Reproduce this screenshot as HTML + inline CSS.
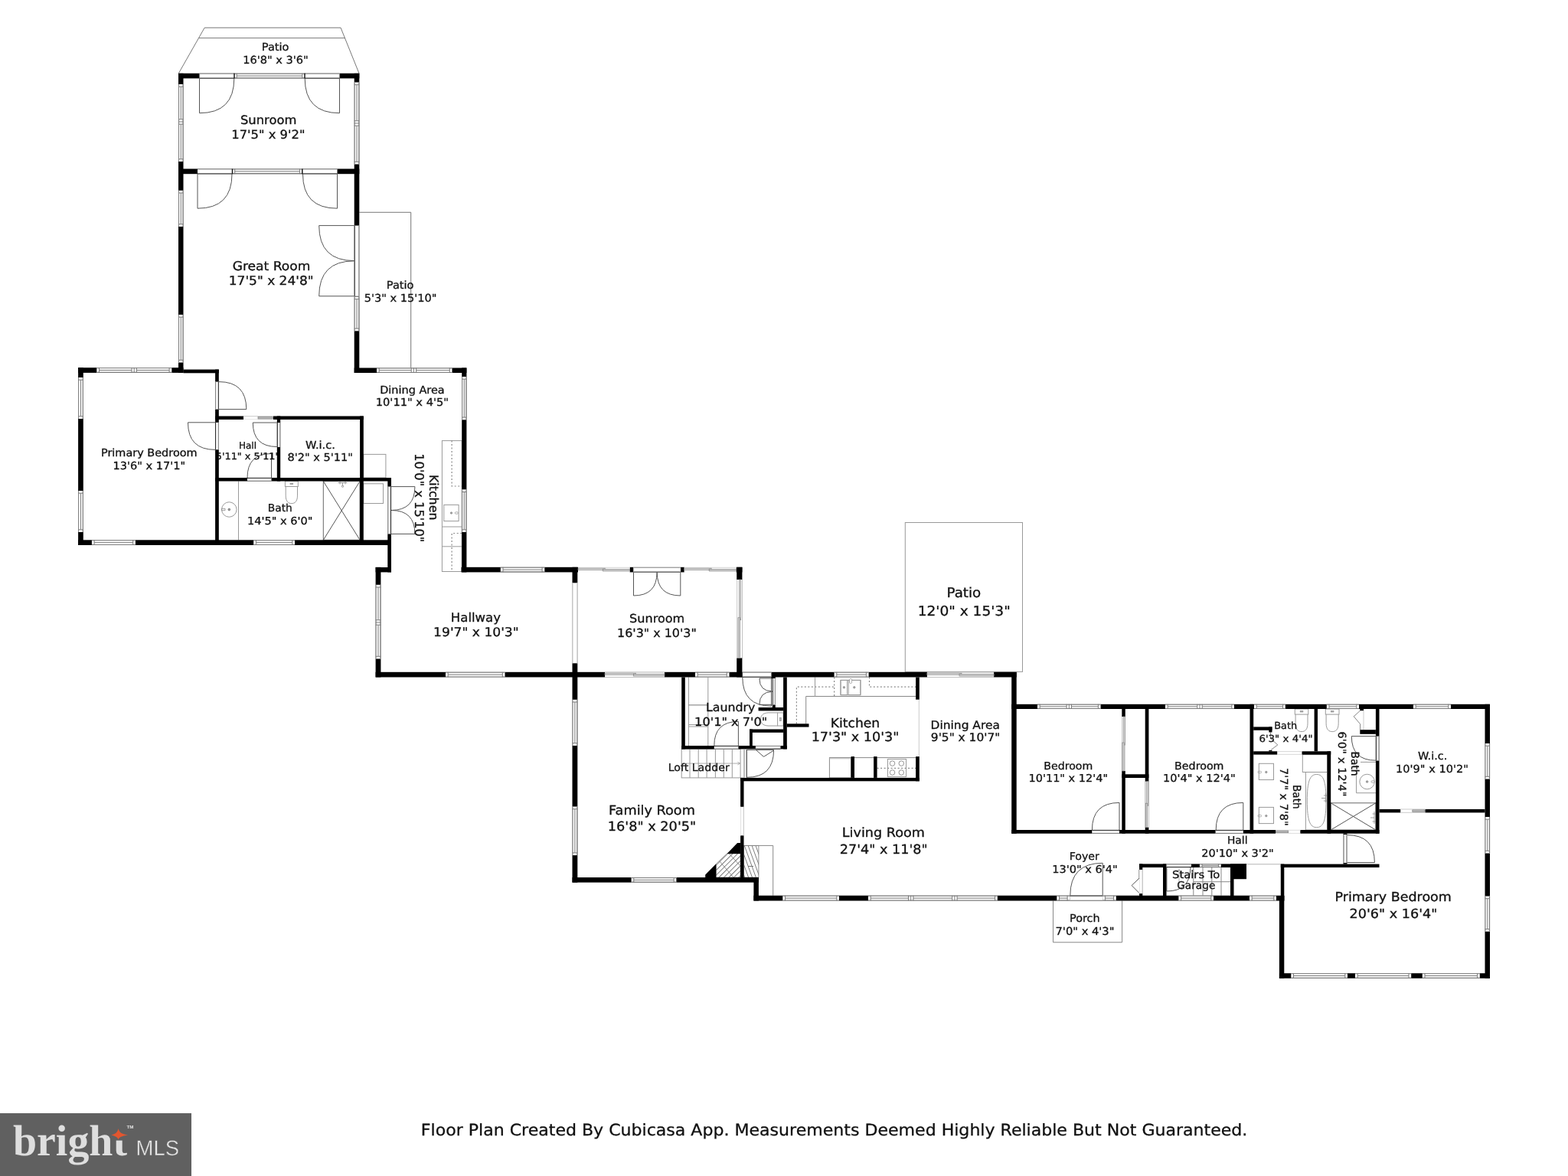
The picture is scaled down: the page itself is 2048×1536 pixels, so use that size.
<!DOCTYPE html>
<html lang="en">
<head>
<meta charset="utf-8">
<title>Floor Plan</title>
<style>
html,body{margin:0;padding:0;background:#fff;}
body{width:2048px;height:1536px;overflow:hidden;font-family:"DejaVu Sans","Liberation Sans",sans-serif;}
svg{display:block;position:absolute;left:0;top:0;}
svg text{text-rendering:geometricPrecision;}
svg{will-change:transform;transform:translateZ(0);}
</style>
</head>
<body>
<svg width="2048" height="1536" viewBox="0 0 2048 1536">
<rect width="2048" height="1536" fill="#fff"/>
<g fill="none">
<path d="M233.3 95.8L267.2 36.2L445 36.2L469 95.8" fill="none" stroke="#777" stroke-width="1"/>
<line x1="259.7" y1="49.7" x2="451" y2="49.7" stroke="#777" stroke-width="1"/>
<path d="M469.3 277.3L536.7 277.3L536.7 481" fill="none" stroke="#777" stroke-width="1"/>
<path d="M260.5 102.4L260.5 147.7Q305.8 147.7 305.8 102.4" fill="none" stroke="#555" stroke-width="1"/>
<path d="M443.5 102.4L443.5 147.7Q398.2 147.7 398.2 102.4" fill="none" stroke="#555" stroke-width="1"/>
<path d="M258 227.2L258 272.2Q303 272.2 303 227.2" fill="none" stroke="#555" stroke-width="1"/>
<path d="M440.5 227.2L440.5 272.2Q395.5 272.2 395.5 227.2" fill="none" stroke="#555" stroke-width="1"/>
<path d="M462.7 294.6L416.7 294.6Q416.7 340.6 462.7 340.6" fill="none" stroke="#555" stroke-width="1"/>
<path d="M462.7 386.8L416.7 386.8Q416.7 340.8 462.7 340.8" fill="none" stroke="#555" stroke-width="1"/>
<path d="M285.8 534.6L321.8 534.6Q321.8 498.6 285.8 498.6" fill="none" stroke="#555" stroke-width="1"/>
<path d="M281.1 551.8L245.5 551.8Q245.5 587.4 281.1 587.4" fill="none" stroke="#555" stroke-width="1"/>
<path d="M361.8 552L330.3 552Q330.3 583.5 361.8 583.5" fill="none" stroke="#555" stroke-width="1"/>
<path d="M354.5 624L354.5 592.5Q323 592.5 323 624" fill="none" stroke="#555" stroke-width="1"/>
<path d="M511 635.6L541.9 635.6Q541.9 666.5 511 666.5" fill="none" stroke="#555" stroke-width="1"/>
<path d="M511 697.4L541.9 697.4Q541.9 666.5 511 666.5" fill="none" stroke="#555" stroke-width="1"/>
<line x1="311.5" y1="628.5" x2="311.5" y2="705.3" stroke="#9a9a9a" stroke-width="1"/>
<circle cx="299.3" cy="665.5" r="9.75" fill="none" stroke="#9a9a9a" stroke-width="1"/>
<circle cx="299.3" cy="665.5" r="1.3" fill="#999" stroke="#777" stroke-width="1"/>
<path d="M289.5 664.3h4.5v2.4h-4.5z" fill="none" stroke="#888" stroke-width="0.8"/>
<rect x="372.4" y="628.5" width="16.9" height="7" fill="none" stroke="#9a9a9a" stroke-width="1"/>
<path d="M373.2 635.5L373.2 647.12C373.2 655.07 376.62 657.6 380.85 657.6C385.07 657.6 388.5 655.07 388.5 647.12L388.5 635.5" fill="none" stroke="#9a9a9a" stroke-width="1"/>
<rect x="379.05" y="631.1" width="3.6" height="1.4" fill="#aaa" stroke="#999" stroke-width="0.8"/>
<rect x="422.3" y="628.5" width="47.8" height="76.8" fill="none" stroke="#666" stroke-width="1"/>
<line x1="422.3" y1="628.5" x2="470.1" y2="705.3" stroke="#555" stroke-width="1"/>
<line x1="422.3" y1="705.3" x2="470.1" y2="628.5" stroke="#555" stroke-width="1"/>
<path d="M441.5 630.5h12M444 628.5v4M451 628.5v4M447.5 630.5v4" fill="none" stroke="#888" stroke-width="0.8"/>
<circle cx="447.5" cy="635.2" r="1.2" fill="none" stroke="#888" stroke-width="0.8"/>
<rect x="474.8" y="593.4" width="29.1" height="30.6" fill="none" stroke="#9a9a9a" stroke-width="1"/>
<rect x="474.8" y="631.8" width="25.7" height="25.7" fill="none" stroke="#9a9a9a" stroke-width="1"/>
<rect x="577.4" y="575.6" width="25.8" height="170.9" fill="none" stroke="#9a9a9a" stroke-width="1"/>
<path d="M590.1 575.6V635H603.2" fill="none" stroke="#8a8a8a" stroke-width="1.2" stroke-dasharray="2 2.5"/>
<path d="M603.2 696.5H590.1V746.5" fill="none" stroke="#8a8a8a" stroke-width="1.2" stroke-dasharray="2 2.5"/>
<rect x="579.8" y="659.4" width="19.3" height="21.2" fill="none" stroke="#9a9a9a" stroke-width="1"/>
<circle cx="589.5" cy="670" r="1.2" fill="#aaa" stroke="#888" stroke-width="0.8"/>
<rect x="594.3" y="668.8" width="4" height="2.4" fill="none" stroke="#999" stroke-width="0.8" rx="1"/>
<line x1="577.4" y1="688" x2="603.2" y2="688" stroke="#9a9a9a" stroke-width="1"/>
<line x1="577.4" y1="713.8" x2="603.2" y2="713.8" stroke="#9a9a9a" stroke-width="1"/>
<path d="M827.5 747.4L827.5 778Q858.1 778 858.1 747.4" fill="none" stroke="#555" stroke-width="1"/>
<path d="M888.8 747.4L888.8 778Q858.2 778 858.2 747.4" fill="none" stroke="#555" stroke-width="1"/>
<polygon points="949.6,1114.9 967.1,1114.9 967.1,1146 935.3,1146 935.3,1128.3" fill="url(#h1)" stroke="#777" stroke-width="0.8"/>
<line x1="940" y1="1125" x2="958" y2="1146" stroke="#777" stroke-width="0.8"/>
<line x1="952" y1="1114.7" x2="967" y2="1131" stroke="#777" stroke-width="0.8"/>
<rect x="971.5" y="1104.4" width="19.4" height="41.6" fill="url(#h2)" stroke="#777" stroke-width="0.8"/>
<path d="M971.5 1104.4H1009.7V1169.7" fill="none" stroke="#888" stroke-width="1"/>
<line x1="977" y1="1131.5" x2="984" y2="1131.5" stroke="#777" stroke-width="1"/>
<rect x="890.2" y="978.4" width="76.9" height="37.5" fill="none" stroke="#999" stroke-width="1"/>
<line x1="901" y1="978.4" x2="901" y2="1015.9" stroke="#999" stroke-width="1"/>
<line x1="912.2" y1="978.4" x2="912.2" y2="1015.9" stroke="#999" stroke-width="1"/>
<line x1="923.1" y1="978.4" x2="923.1" y2="1015.9" stroke="#999" stroke-width="1"/>
<line x1="934.4" y1="978.4" x2="934.4" y2="1015.9" stroke="#999" stroke-width="1"/>
<line x1="945.3" y1="978.4" x2="945.3" y2="1015.9" stroke="#999" stroke-width="1"/>
<line x1="956.3" y1="978.4" x2="956.3" y2="1015.9" stroke="#999" stroke-width="1"/>
<path d="M890.2 997.1H966.5M963.5 995.3L966.5 997.1L963.5 998.9" fill="none" stroke="#999" stroke-width="0.8"/>
<line x1="899.4" y1="884.5" x2="899.4" y2="974" stroke="#9a9a9a" stroke-width="1"/>
<line x1="924.8" y1="884.5" x2="924.8" y2="974" stroke="#9a9a9a" stroke-width="1"/>
<line x1="899.4" y1="920.9" x2="924.8" y2="920.9" stroke="#777" stroke-width="1"/>
<line x1="899.4" y1="946.5" x2="924.8" y2="946.5" stroke="#9a9a9a" stroke-width="1"/>
<line x1="899.4" y1="949" x2="924.8" y2="949" stroke="#9a9a9a" stroke-width="1"/>
<path d="M964.4 974L964.4 942.4Q932.8 942.4 932.8 974" fill="none" stroke="#555" stroke-width="1"/>
<path d="M1007.5 884.5L1007.5 922.2Q969.8 922.2 969.8 884.5" fill="none" stroke="#555" stroke-width="1"/>
<path d="M1008.8 886L991.9 886Q991.9 902.9 1008.8 902.9" fill="none" stroke="#555" stroke-width="1"/>
<path d="M1008.8 920.3L991.9 920.3Q991.9 903.4 1008.8 903.4" fill="none" stroke="#555" stroke-width="1"/>
<rect x="1015.6" y="930.9" width="7.5" height="17.1" fill="none" stroke="#9a9a9a" stroke-width="1"/>
<path d="M1015.6 930.9H1003C995 931.5 993.5 936 993.7 939.5C993.5 943 995 947.5 1003 948H1015.6" fill="none" stroke="#9a9a9a" stroke-width="1"/>
<rect x="1018.3" y="937.5" width="2" height="4" fill="#bbb" stroke="#999" stroke-width="0.8"/>
<path d="M975.6 979.4H1010.6Q1010.6 1015.3 975.6 1015.3" fill="none" stroke="#555" stroke-width="1"/>
<path d="M987.5 979.6L997.5 988.4L1010 980.5" fill="none" stroke="#555" stroke-width="1"/>
<path d="M1052.7 945.3V909.5H1196.1" fill="none" stroke="#888" stroke-width="1"/>
<path d="M1040.4 945.3V897.2H1089.6" fill="none" stroke="#8a8a8a" stroke-width="1.2" stroke-dasharray="2 2.5"/>
<path d="M1135.5 884.5V897.2H1196.1" fill="none" stroke="#8a8a8a" stroke-width="1.2" stroke-dasharray="2 2.5"/>
<line x1="1064.5" y1="884.5" x2="1064.5" y2="909.5" stroke="#9a9a9a" stroke-width="1"/>
<line x1="1089.6" y1="884.5" x2="1089.6" y2="909.5" stroke="#8a8a8a" stroke-width="1.2" stroke-dasharray="2 2.5"/>
<rect x="1098" y="888.4" width="25.9" height="19.3" fill="none" stroke="#999" stroke-width="1"/>
<rect x="1098" y="888.4" width="8.6" height="19.3" fill="none" stroke="#999" stroke-width="1"/>
<rect x="1108.2" y="888.4" width="15.7" height="19.3" fill="none" stroke="#999" stroke-width="1"/>
<circle cx="1102.4" cy="897.8" r="1.2" fill="#aaa" stroke="#888" stroke-width="0.8"/>
<circle cx="1115.8" cy="897.8" r="1.2" fill="#aaa" stroke="#888" stroke-width="0.8"/>
<rect x="1109.6" y="886.5" width="3" height="6" fill="#fff" stroke="#999" stroke-width="0.8" rx="1.2"/>
<line x1="1200.3" y1="913.7" x2="1200.3" y2="988.1" stroke="#ccc" stroke-width="1"/>
<rect x="1083.4" y="989.6" width="28.1" height="26.3" fill="none" stroke="#888" stroke-width="1"/>
<line x1="1083.4" y1="990.8" x2="1111.5" y2="990.8" stroke="#bbb" stroke-width="1"/>
<path d="M1116 989.6H1141.1" fill="none" stroke="#888" stroke-width="1"/>
<path d="M1145.6 989.6H1196.1" fill="none" stroke="#888" stroke-width="1"/>
<rect x="1159.5" y="991.5" width="24" height="23.1" fill="none" stroke="#999" stroke-width="1"/>
<circle cx="1165.5" cy="997.1" r="3.3" fill="none" stroke="#888" stroke-width="0.9"/>
<circle cx="1165.5" cy="1009" r="3.3" fill="none" stroke="#888" stroke-width="0.9"/>
<circle cx="1177.3" cy="997.1" r="3.3" fill="none" stroke="#888" stroke-width="0.9"/>
<circle cx="1177.3" cy="1009" r="3.3" fill="none" stroke="#888" stroke-width="0.9"/>
<line x1="1145.6" y1="1003.3" x2="1196.1" y2="1003.3" stroke="#8a8a8a" stroke-width="1.2" stroke-dasharray="2 2.5"/>
<rect x="1182.3" y="682.5" width="153.2" height="194.9" fill="none" stroke="#999" stroke-width="1"/>
<path d="M1440.2 1169.7L1440.2 1127.3Q1397.8 1127.3 1397.8 1169.7" fill="none" stroke="#555" stroke-width="1"/>
<path d="M1375.5 1176.5V1230.8H1465.6V1176.5" fill="none" stroke="#888" stroke-width="1"/>
<path d="M1462 1084L1462 1048.4Q1426.4 1048.4 1426.4 1084" fill="none" stroke="#555" stroke-width="1"/>
<path d="M1623.8 1084L1623.8 1048.4Q1588.2 1048.4 1588.2 1084" fill="none" stroke="#555" stroke-width="1"/>
<path d="M1659.4 956.4V964.5L1668.8 972.9L1659.4 980" fill="none" stroke="#777" stroke-width="0.9"/>
<rect x="1644.3" y="997.3" width="19.2" height="21.2" fill="none" stroke="#9a9a9a" stroke-width="1"/>
<circle cx="1653.8" cy="1008.5" r="1.2" fill="#aaa" stroke="#888" stroke-width="0.8"/>
<rect x="1643" y="1007.3" width="4.5" height="2.4" fill="none" stroke="#999" stroke-width="0.8" rx="1"/>
<rect x="1644.3" y="1054.4" width="19.2" height="21.2" fill="none" stroke="#9a9a9a" stroke-width="1"/>
<circle cx="1653.8" cy="1065.6" r="1.2" fill="#aaa" stroke="#888" stroke-width="0.8"/>
<rect x="1643" y="1064.4" width="4.5" height="2.4" fill="none" stroke="#999" stroke-width="0.8" rx="1"/>
<rect x="1691.3" y="926" width="17.5" height="7.1" fill="none" stroke="#9a9a9a" stroke-width="1"/>
<path d="M1692.1 933.1L1692.1 944.75C1692.1 952.98 1695.67 955.6 1700.05 955.6C1704.42 955.6 1708 952.98 1708 944.75L1708 933.1" fill="none" stroke="#9a9a9a" stroke-width="1"/>
<rect x="1698.25" y="928.6" width="3.6" height="1.4" fill="#aaa" stroke="#999" stroke-width="0.8"/>
<rect x="1731.3" y="926" width="17.7" height="7.1" fill="none" stroke="#9a9a9a" stroke-width="1"/>
<path d="M1732.1 933.1L1732.1 944.63C1732.1 952.95 1735.72 955.6 1740.15 955.6C1744.58 955.6 1748.2 952.95 1748.2 944.63L1748.2 933.1" fill="none" stroke="#9a9a9a" stroke-width="1"/>
<rect x="1738.35" y="928.6" width="3.6" height="1.4" fill="#aaa" stroke="#999" stroke-width="0.8"/>
<rect x="1701.3" y="985.6" width="32.2" height="22.9" fill="none" stroke="#9a9a9a" stroke-width="1"/>
<rect x="1705.4" y="1008.5" width="28.1" height="75.5" fill="none" stroke="#9a9a9a" stroke-width="1"/>
<path d="M1707.3 1046C1707.3 1020 1711 1011.5 1719.7 1011.5C1728.5 1011.5 1732 1020 1732 1046C1732 1072 1728.5 1080.7 1719.7 1080.7C1711 1080.7 1707.3 1072 1707.3 1046Z" fill="none" stroke="#9a9a9a" stroke-width="1"/>
<path d="M1731.5 1036v12M1729 1039h4M1729 1046h4M1726 1042.5h5" fill="none" stroke="#888" stroke-width="0.8"/>
<rect x="1738.2" y="1048.8" width="58.7" height="35.2" fill="none" stroke="#666" stroke-width="1"/>
<line x1="1738.2" y1="1048.8" x2="1796.9" y2="1084" stroke="#555" stroke-width="1"/>
<line x1="1738.2" y1="1084" x2="1796.9" y2="1048.8" stroke="#555" stroke-width="1"/>
<path d="M1795 1060v16M1792.5 1063h4M1792.5 1073h4M1790 1068h5" fill="none" stroke="#888" stroke-width="0.8"/>
<path d="M1776.6 928.2L1768.2 935.8L1776.6 945.7V953.2" fill="none" stroke="#777" stroke-width="0.9"/>
<line x1="1781" y1="928.2" x2="1781" y2="953.2" stroke="#ccc" stroke-width="1"/>
<path d="M1796.9 961.6L1765.3 961.6Q1765.3 993.2 1796.9 993.2" fill="none" stroke="#555" stroke-width="1"/>
<path d="M1777 995.4H1796.9M1771.5 1006.6V1035.7H1796.9" fill="none" stroke="#9a9a9a" stroke-width="1"/>
<circle cx="1785.6" cy="1021" r="9.75" fill="none" stroke="#9a9a9a" stroke-width="1"/>
<circle cx="1785.6" cy="1021" r="1.3" fill="#aaa" stroke="#888" stroke-width="0.8"/>
<rect x="1791" y="1019.8" width="4.5" height="2.4" fill="none" stroke="#999" stroke-width="0.8" rx="1"/>
<path d="M1759.4 1126.6L1795.4 1126.6Q1795.4 1090.6 1759.4 1090.6" fill="none" stroke="#555" stroke-width="1"/>
<line x1="1628" y1="1128.8" x2="1672.8" y2="1128.8" stroke="#b4b4b4" stroke-width="1"/>
<path d="M1488 1135.9V1147.1L1478.1 1156.5L1488 1166.5" fill="none" stroke="#555" stroke-width="1"/>
<path d="M1523.9 1133L1523.9 1164Q1554.9 1164 1554.9 1133" fill="none" stroke="#555" stroke-width="1"/>
<line x1="1558.8" y1="1133" x2="1558.8" y2="1169.7" stroke="#888" stroke-width="1"/>
<line x1="1571" y1="1133" x2="1571" y2="1169.7" stroke="#888" stroke-width="1"/>
<line x1="1582.8" y1="1133" x2="1582.8" y2="1169.7" stroke="#888" stroke-width="1"/>
<line x1="1595" y1="1133" x2="1595" y2="1169.7" stroke="#888" stroke-width="1"/>
<line x1="1558.8" y1="1151.7" x2="1607" y2="1151.7" stroke="#888" stroke-width="1"/>
<path d="M1540 1160V1136M1538 1139L1540 1135.5L1542 1139" fill="none" stroke="#999" stroke-width="0.8"/>
</g>
<g font-family="'DejaVu Sans', 'Liberation Sans', sans-serif" fill="#111" stroke="#111" stroke-width="0.3" text-anchor="middle">
<text x="359.68" y="66.3" font-size="13.79" textLength="35.71" lengthAdjust="spacingAndGlyphs">Patio</text>
<text x="359.9" y="83.3" font-size="13.79" textLength="85.47" lengthAdjust="spacingAndGlyphs">16'8&quot; x 3'6&quot;</text>
<text x="350.66" y="161.8" font-size="15.5" textLength="73.44" lengthAdjust="spacingAndGlyphs">Sunroom</text>
<text x="350.39" y="180.8" font-size="15.5" textLength="96.14" lengthAdjust="spacingAndGlyphs">17'5&quot; x 9'2&quot;</text>
<text x="354.54" y="353" font-size="16.16" textLength="101.69" lengthAdjust="spacingAndGlyphs">Great Room</text>
<text x="354.19" y="372.3" font-size="16.16" textLength="110.78" lengthAdjust="spacingAndGlyphs">17'5&quot; x 24'8&quot;</text>
<text x="522.68" y="377.3" font-size="13.8" textLength="35.71" lengthAdjust="spacingAndGlyphs">Patio</text>
<text x="523.14" y="393.5" font-size="13.8" textLength="94.81" lengthAdjust="spacingAndGlyphs">5'3&quot; x 15'10&quot;</text>
<text x="538.45" y="513.5" font-size="13.79" textLength="84.54" lengthAdjust="spacingAndGlyphs">Dining Area</text>
<text x="538.4" y="530.3" font-size="13.79" textLength="95.29" lengthAdjust="spacingAndGlyphs">10'11&quot; x 4'5&quot;</text>
<text x="194.8" y="596.1" font-size="13.73" textLength="125.63" lengthAdjust="spacingAndGlyphs">Primary Bedroom</text>
<text x="194.8" y="613" font-size="13.73" textLength="94.78" lengthAdjust="spacingAndGlyphs">13'6&quot; x 17'1&quot;</text>
<text x="323.47" y="585.7" font-size="12.01">Hall</text>
<text x="323.62" y="600.2" font-size="12.01" textLength="83.72" lengthAdjust="spacingAndGlyphs">5'11&quot; x 5'11&quot;</text>
<text x="418.55" y="585.5" font-size="13.8" textLength="38.87" lengthAdjust="spacingAndGlyphs">W.i.c.</text>
<text x="418.21" y="602.4" font-size="13.8" textLength="85.36" lengthAdjust="spacingAndGlyphs">8'2&quot; x 5'11&quot;</text>
<text x="365.81" y="667.8" font-size="13.57" textLength="32.02" lengthAdjust="spacingAndGlyphs">Bath</text>
<text x="365.8" y="684.6" font-size="13.57" textLength="85.37" lengthAdjust="spacingAndGlyphs">14'5&quot; x 6'0&quot;</text>
<text x="560.39" y="649.8" font-size="16" textLength="59.49" lengthAdjust="spacingAndGlyphs" transform="rotate(90 560.5 649.8)">Kitchen</text>
<text x="542.09" y="650.4" font-size="16" textLength="116.13" lengthAdjust="spacingAndGlyphs" transform="rotate(90 542.2 650.4)">10'0&quot; x 15'10&quot;</text>
<text x="621.44" y="812" font-size="16.01" textLength="65.11" lengthAdjust="spacingAndGlyphs">Hallway</text>
<text x="621.89" y="831.3" font-size="16.01" textLength="111.5" lengthAdjust="spacingAndGlyphs">19'7&quot; x 10'3&quot;</text>
<text x="858.16" y="812.5" font-size="15.16" textLength="72.2" lengthAdjust="spacingAndGlyphs">Sunroom</text>
<text x="857.89" y="831.8" font-size="15.16" textLength="103.76" lengthAdjust="spacingAndGlyphs">16'3&quot; x 10'3&quot;</text>
<text x="954.26" y="928.8" font-size="15.19" textLength="64.43" lengthAdjust="spacingAndGlyphs">Laundry</text>
<text x="954.69" y="947.5" font-size="15.19" textLength="95.11" lengthAdjust="spacingAndGlyphs">10'1&quot; x 7'0&quot;</text>
<text x="912.71" y="1006.9" font-size="13.39" textLength="79.98" lengthAdjust="spacingAndGlyphs">Loft Ladder</text>
<text x="851.48" y="1064" font-size="16.77" textLength="112.82" lengthAdjust="spacingAndGlyphs">Family Room</text>
<text x="851.48" y="1085.3" font-size="16.77" textLength="115.43" lengthAdjust="spacingAndGlyphs">16'8&quot; x 20'5&quot;</text>
<text x="1116.98" y="949.9" font-size="16.53" textLength="64.53" lengthAdjust="spacingAndGlyphs">Kitchen</text>
<text x="1116.98" y="968" font-size="16.53" textLength="114.6" lengthAdjust="spacingAndGlyphs">17'3&quot; x 10'3&quot;</text>
<text x="1260.75" y="951.8" font-size="14.61" textLength="90.32" lengthAdjust="spacingAndGlyphs">Dining Area</text>
<text x="1261.06" y="968.4" font-size="14.61" textLength="90.42" lengthAdjust="spacingAndGlyphs">9'5&quot; x 10'7&quot;</text>
<text x="1153.87" y="1092.6" font-size="16.7" textLength="108.1" lengthAdjust="spacingAndGlyphs">Living Room</text>
<text x="1154.2" y="1114.5" font-size="16.7" textLength="114.77" lengthAdjust="spacingAndGlyphs">27'4&quot; x 11'8&quot;</text>
<text x="1395.3" y="1004.8" font-size="13.6" textLength="63.97" lengthAdjust="spacingAndGlyphs">Bedroom</text>
<text x="1395.31" y="1021.3" font-size="13.6" textLength="103.57" lengthAdjust="spacingAndGlyphs">10'11&quot; x 12'4&quot;</text>
<text x="1566.3" y="1004.8" font-size="13.67" textLength="64.39" lengthAdjust="spacingAndGlyphs">Bedroom</text>
<text x="1566.3" y="1021.3" font-size="13.67" textLength="94.78" lengthAdjust="spacingAndGlyphs">10'4&quot; x 12'4&quot;</text>
<text x="1416.3" y="1123.3" font-size="13.65" textLength="39.18" lengthAdjust="spacingAndGlyphs">Foyer</text>
<text x="1416.9" y="1140.1" font-size="13.65" textLength="85.37" lengthAdjust="spacingAndGlyphs">13'0&quot; x 6'4&quot;</text>
<text x="1616.26" y="1102.3" font-size="13.61" textLength="26.53" lengthAdjust="spacingAndGlyphs">Hall</text>
<text x="1616.46" y="1119.1" font-size="13.61" textLength="94.55" lengthAdjust="spacingAndGlyphs">20'10&quot; x 3'2&quot;</text>
<text x="1562.22" y="1146.6" font-size="13.52" textLength="62.36" lengthAdjust="spacingAndGlyphs">Stairs To</text>
<text x="1562.28" y="1161" font-size="13.52" textLength="50.09" lengthAdjust="spacingAndGlyphs">Garage</text>
<text x="1416.81" y="1204" font-size="13.82" textLength="39.64" lengthAdjust="spacingAndGlyphs">Porch</text>
<text x="1417" y="1221.3" font-size="13.82" textLength="76.92" lengthAdjust="spacingAndGlyphs">7'0&quot; x 4'3&quot;</text>
<text x="1679.21" y="952.3" font-size="12.55" textLength="29.95" lengthAdjust="spacingAndGlyphs">Bath</text>
<text x="1679.48" y="968.8" font-size="12.55" textLength="70.21" lengthAdjust="spacingAndGlyphs">6'3&quot; x 4'4&quot;</text>
<text x="1688.41" y="1040.9" font-size="14" textLength="31.47" lengthAdjust="spacingAndGlyphs" transform="rotate(90 1688.5 1040.9)">Bath</text>
<text x="1672.3" y="1040.8" font-size="14" textLength="75.57" lengthAdjust="spacingAndGlyphs" transform="rotate(90 1672.2 1040.8)">7'7&quot; x 7'8&quot;</text>
<text x="1764.51" y="997.6" font-size="14" textLength="31.8" lengthAdjust="spacingAndGlyphs" transform="rotate(90 1764.6 997.6)">Bath</text>
<text x="1748.29" y="997.8" font-size="14" textLength="84.77" lengthAdjust="spacingAndGlyphs" transform="rotate(90 1748.1 997.8)">6'0&quot; x 12'4&quot;</text>
<text x="1871.14" y="991.6" font-size="13.77" textLength="38.45" lengthAdjust="spacingAndGlyphs">W.i.c.</text>
<text x="1870.5" y="1008.5" font-size="13.77" textLength="94.78" lengthAdjust="spacingAndGlyphs">10'9&quot; x 10'2&quot;</text>
<text x="1819.68" y="1177" font-size="16.64" textLength="152.49" lengthAdjust="spacingAndGlyphs">Primary Bedroom</text>
<text x="1820" y="1198.9" font-size="16.64" textLength="114.77" lengthAdjust="spacingAndGlyphs">20'6&quot; x 16'4&quot;</text>
<text x="1258.9" y="780" font-size="17.54" textLength="44.77" lengthAdjust="spacingAndGlyphs">Patio</text>
<text x="1259.18" y="804.4" font-size="17.54" textLength="121.11" lengthAdjust="spacingAndGlyphs">12'0&quot; x 15'3&quot;</text>
<text x="1089.61" y="1483.3" font-size="20.91" textLength="1079.55" lengthAdjust="spacingAndGlyphs">Floor Plan Created By Cubicasa App. Measurements Deemed Highly Reliable But Not Guaranteed.</text>
</g>
<g fill="#000">
<rect x="233" y="95.8" width="236.3" height="6.6"/>
<rect x="233" y="220.5" width="236.3" height="6.7"/>
<rect x="233" y="95.8" width="6.5" height="391.2"/>
<rect x="462.7" y="95.8" width="6.6" height="391.2"/>
<rect x="102.1" y="480.2" width="137.4" height="6.7"/>
<rect x="102.1" y="480.2" width="6.7" height="231.8"/>
<rect x="102.1" y="705.3" width="408.9" height="6.7"/>
<rect x="239.5" y="482.6" width="46.3" height="4.7"/>
<rect x="281.1" y="482.6" width="4.7" height="229.4"/>
<rect x="281.1" y="543.5" width="193.7" height="4.5"/>
<rect x="361.8" y="543.5" width="4.4" height="85"/>
<rect x="470.1" y="543.5" width="4.7" height="168.5"/>
<rect x="281.1" y="624" width="229.9" height="4.5"/>
<rect x="506.3" y="624" width="4.7" height="123.4"/>
<rect x="490.6" y="741" width="20.4" height="6.4"/>
<rect x="462.7" y="480.5" width="146.7" height="6.5"/>
<rect x="603.2" y="480.5" width="6.2" height="266.9"/>
<rect x="490.6" y="740.8" width="6.8" height="143.7"/>
<rect x="490.6" y="877.8" width="837.1" height="6.7"/>
<rect x="602.5" y="740.8" width="152.5" height="6.6"/>
<rect x="747.5" y="740.8" width="6.8" height="411.8"/>
<rect x="822.5" y="740.8" width="5" height="6.6"/>
<rect x="888.8" y="740.8" width="5" height="6.6"/>
<rect x="961.5" y="740.8" width="7.9" height="6.6"/>
<rect x="962.2" y="740.8" width="7.2" height="143.7"/>
<rect x="747.5" y="1146" width="243.4" height="6.6"/>
<rect x="984.4" y="1146" width="6.5" height="30.5"/>
<rect x="984.4" y="1169.7" width="692.9" height="6.8"/>
<rect x="967.1" y="1015.9" width="4.4" height="130.1"/>
<rect x="967.1" y="1015.9" width="233.7" height="4.4"/>
<rect x="890.2" y="884.5" width="4.6" height="93.9"/>
<rect x="890.2" y="974" width="137.6" height="4.4"/>
<rect x="1023.1" y="884.5" width="4.7" height="93.9"/>
<rect x="1007.5" y="878" width="5.3" height="8"/>
<rect x="1008.8" y="920.3" width="4" height="3.7"/>
<rect x="990.6" y="924" width="32.5" height="4.4"/>
<rect x="979" y="952.5" width="44.1" height="4.3"/>
<rect x="979" y="952.5" width="3.8" height="21.5"/>
<rect x="1027.8" y="945.3" width="28.7" height="4.3"/>
<rect x="1196.1" y="884.5" width="4.7" height="29.2"/>
<rect x="1196.1" y="988.1" width="4.7" height="32.2"/>
<rect x="1111.5" y="988.1" width="4.5" height="27.8"/>
<rect x="1141.1" y="988.1" width="4.5" height="27.8"/>
<rect x="1321.2" y="878.1" width="6.5" height="210.6"/>
<rect x="1321.2" y="919.8" width="624.8" height="6.2"/>
<rect x="1939.5" y="919.8" width="6.5" height="358"/>
<rect x="1321.2" y="1084" width="480.3" height="4.7"/>
<rect x="1465.3" y="926" width="4.5" height="162.7"/>
<rect x="1465.3" y="1011.3" width="35.1" height="4.7"/>
<rect x="1495.7" y="926" width="4.7" height="162.7"/>
<rect x="1632.5" y="919.8" width="4.7" height="168.9"/>
<rect x="1637.2" y="949.4" width="24.3" height="4.4"/>
<rect x="1657.3" y="949.4" width="4.2" height="7"/>
<rect x="1657.3" y="980" width="4.2" height="1.3"/>
<rect x="1637.2" y="981.3" width="101" height="4.3"/>
<rect x="1716.6" y="926" width="4.4" height="55.3"/>
<rect x="1733.5" y="981.3" width="4.7" height="107.4"/>
<rect x="1796.9" y="926" width="4.6" height="162.7"/>
<rect x="1776.3" y="926" width="4.7" height="2.2"/>
<rect x="1776.3" y="953.2" width="20.6" height="5.6"/>
<rect x="1801.5" y="1056.9" width="138" height="4.5"/>
<rect x="1672.8" y="1128.6" width="128.7" height="4.4"/>
<rect x="1672.8" y="1128.6" width="4.5" height="47.9"/>
<rect x="1670.9" y="1170" width="6.4" height="107.8"/>
<rect x="1670.9" y="1271.2" width="275.1" height="6.6"/>
<rect x="1488.1" y="1128.4" width="139.9" height="4.6"/>
<rect x="1488.1" y="1128.4" width="4.2" height="41.6"/>
<rect x="1519" y="1128.4" width="4.5" height="41.6"/>
<rect x="1607" y="1128.4" width="21" height="19.8"/>
<rect x="1607" y="1148" width="4.5" height="22"/>
<polygon points="963.1,1101.1 967.1,1101.1 967.1,1114.9 949.6,1114.9" fill="#000"/>
<polygon points="935.3,1128.3 935.3,1146 921.2,1146 921.2,1142.4" fill="#000"/>
<rect x="1754.5" y="1088.7" width="5" height="1.5"/>
<rect x="1754.5" y="1126.9" width="5" height="1.7"/>
</g>
<g fill="none">
<rect x="260.5" y="95.8" width="45.5" height="6.6" fill="#fff"/>
<line x1="260.5" y1="96.2" x2="306" y2="96.2" stroke="#7a7a7a" stroke-width="1"/>
<line x1="260.5" y1="102.1" x2="306" y2="102.1" stroke="#1a1a1a" stroke-width="1"/>
<rect x="306" y="95.8" width="92" height="6.6" fill="#fff"/>
<line x1="306" y1="96.3" x2="398" y2="96.3" stroke="#7a7a7a" stroke-width="1"/>
<line x1="306" y1="101.9" x2="398" y2="101.9" stroke="#7a7a7a" stroke-width="1.2"/>
<line x1="309.2" y1="99.1" x2="394.8" y2="99.1" stroke="#7a7a7a" stroke-width="1"/>
<line x1="309.2" y1="95.8" x2="309.2" y2="102.4" stroke="#7a7a7a" stroke-width="1"/>
<line x1="394.8" y1="95.8" x2="394.8" y2="102.4" stroke="#7a7a7a" stroke-width="1"/>
<rect x="398" y="95.8" width="45.5" height="6.6" fill="#fff"/>
<line x1="398" y1="96.2" x2="443.5" y2="96.2" stroke="#7a7a7a" stroke-width="1"/>
<line x1="398" y1="102.1" x2="443.5" y2="102.1" stroke="#1a1a1a" stroke-width="1"/>
<line x1="306" y1="95.8" x2="306" y2="102.4" stroke="#1a1a1a" stroke-width="1.5"/>
<line x1="398" y1="95.8" x2="398" y2="102.4" stroke="#1a1a1a" stroke-width="1.5"/>
<rect x="258" y="220.5" width="45.5" height="6.7" fill="#fff"/>
<line x1="258" y1="220.9" x2="303.5" y2="220.9" stroke="#7a7a7a" stroke-width="1"/>
<line x1="258" y1="226.9" x2="303.5" y2="226.9" stroke="#1a1a1a" stroke-width="1"/>
<rect x="303.5" y="220.5" width="91.3" height="6.7" fill="#fff"/>
<line x1="303.5" y1="221" x2="394.8" y2="221" stroke="#7a7a7a" stroke-width="1"/>
<line x1="303.5" y1="226.7" x2="394.8" y2="226.7" stroke="#7a7a7a" stroke-width="1.2"/>
<line x1="306.7" y1="223.85" x2="391.6" y2="223.85" stroke="#7a7a7a" stroke-width="1"/>
<line x1="306.7" y1="220.5" x2="306.7" y2="227.2" stroke="#7a7a7a" stroke-width="1"/>
<line x1="391.6" y1="220.5" x2="391.6" y2="227.2" stroke="#7a7a7a" stroke-width="1"/>
<rect x="394.8" y="220.5" width="45.7" height="6.7" fill="#fff"/>
<line x1="394.8" y1="220.9" x2="440.5" y2="220.9" stroke="#7a7a7a" stroke-width="1"/>
<line x1="394.8" y1="226.9" x2="440.5" y2="226.9" stroke="#1a1a1a" stroke-width="1"/>
<line x1="303.5" y1="220.5" x2="303.5" y2="227.2" stroke="#1a1a1a" stroke-width="1.5"/>
<line x1="394.8" y1="220.5" x2="394.8" y2="227.2" stroke="#1a1a1a" stroke-width="1.5"/>
<rect x="233" y="110" width="6.5" height="101" fill="#fff"/>
<line x1="233.5" y1="110" x2="233.5" y2="211" stroke="#7a7a7a" stroke-width="1"/>
<line x1="239" y1="110" x2="239" y2="211" stroke="#7a7a7a" stroke-width="1.2"/>
<line x1="236.25" y1="113.2" x2="236.25" y2="155.8" stroke="#7a7a7a" stroke-width="1"/>
<line x1="233" y1="113.2" x2="239.5" y2="113.2" stroke="#7a7a7a" stroke-width="1"/>
<line x1="233" y1="155.8" x2="239.5" y2="155.8" stroke="#7a7a7a" stroke-width="1"/>
<line x1="236.25" y1="162.2" x2="236.25" y2="207.8" stroke="#7a7a7a" stroke-width="1"/>
<line x1="233" y1="162.2" x2="239.5" y2="162.2" stroke="#7a7a7a" stroke-width="1"/>
<line x1="233" y1="207.8" x2="239.5" y2="207.8" stroke="#7a7a7a" stroke-width="1"/>
<line x1="233" y1="159" x2="239.5" y2="159" stroke="#7a7a7a" stroke-width="1"/>
<rect x="233" y="248.8" width="6.5" height="47.2" fill="#fff"/>
<line x1="233.5" y1="248.8" x2="233.5" y2="296" stroke="#7a7a7a" stroke-width="1"/>
<line x1="239" y1="248.8" x2="239" y2="296" stroke="#7a7a7a" stroke-width="1.2"/>
<line x1="236.25" y1="252" x2="236.25" y2="292.8" stroke="#7a7a7a" stroke-width="1"/>
<line x1="233" y1="252" x2="239.5" y2="252" stroke="#7a7a7a" stroke-width="1"/>
<line x1="233" y1="292.8" x2="239.5" y2="292.8" stroke="#7a7a7a" stroke-width="1"/>
<rect x="233" y="411" width="6.5" height="62.5" fill="#fff"/>
<line x1="233.5" y1="411" x2="233.5" y2="473.5" stroke="#7a7a7a" stroke-width="1"/>
<line x1="239" y1="411" x2="239" y2="473.5" stroke="#7a7a7a" stroke-width="1.2"/>
<line x1="236.25" y1="414.2" x2="236.25" y2="470.3" stroke="#7a7a7a" stroke-width="1"/>
<line x1="233" y1="414.2" x2="239.5" y2="414.2" stroke="#7a7a7a" stroke-width="1"/>
<line x1="233" y1="470.3" x2="239.5" y2="470.3" stroke="#7a7a7a" stroke-width="1"/>
<rect x="462.7" y="107.5" width="6.6" height="107" fill="#fff"/>
<line x1="463.2" y1="107.5" x2="463.2" y2="214.5" stroke="#7a7a7a" stroke-width="1"/>
<line x1="468.8" y1="107.5" x2="468.8" y2="214.5" stroke="#7a7a7a" stroke-width="1.2"/>
<line x1="466" y1="110.7" x2="466" y2="157.8" stroke="#7a7a7a" stroke-width="1"/>
<line x1="462.7" y1="110.7" x2="469.3" y2="110.7" stroke="#7a7a7a" stroke-width="1"/>
<line x1="462.7" y1="157.8" x2="469.3" y2="157.8" stroke="#7a7a7a" stroke-width="1"/>
<line x1="466" y1="164.2" x2="466" y2="211.3" stroke="#7a7a7a" stroke-width="1"/>
<line x1="462.7" y1="164.2" x2="469.3" y2="164.2" stroke="#7a7a7a" stroke-width="1"/>
<line x1="462.7" y1="211.3" x2="469.3" y2="211.3" stroke="#7a7a7a" stroke-width="1"/>
<line x1="462.7" y1="161" x2="469.3" y2="161" stroke="#7a7a7a" stroke-width="1"/>
<rect x="462.7" y="294.6" width="6.6" height="92.2" fill="#fff"/>
<line x1="463.2" y1="294.6" x2="463.2" y2="386.8" stroke="#1a1a1a" stroke-width="1"/>
<line x1="468.8" y1="294.6" x2="468.8" y2="386.8" stroke="#7a7a7a" stroke-width="1"/>
<rect x="462.7" y="387.5" width="6.6" height="44.8" fill="#fff"/>
<line x1="463.2" y1="387.5" x2="463.2" y2="432.3" stroke="#7a7a7a" stroke-width="1"/>
<line x1="468.8" y1="387.5" x2="468.8" y2="432.3" stroke="#7a7a7a" stroke-width="1.2"/>
<line x1="466" y1="390.7" x2="466" y2="429.1" stroke="#7a7a7a" stroke-width="1"/>
<line x1="462.7" y1="390.7" x2="469.3" y2="390.7" stroke="#7a7a7a" stroke-width="1"/>
<line x1="462.7" y1="429.1" x2="469.3" y2="429.1" stroke="#7a7a7a" stroke-width="1"/>
<rect x="126.3" y="480.2" width="98" height="6.7" fill="#fff"/>
<line x1="126.3" y1="480.7" x2="224.3" y2="480.7" stroke="#7a7a7a" stroke-width="1"/>
<line x1="126.3" y1="486.4" x2="224.3" y2="486.4" stroke="#7a7a7a" stroke-width="1.2"/>
<line x1="129.5" y1="483.55" x2="172" y2="483.55" stroke="#7a7a7a" stroke-width="1"/>
<line x1="129.5" y1="480.2" x2="129.5" y2="486.9" stroke="#7a7a7a" stroke-width="1"/>
<line x1="172" y1="480.2" x2="172" y2="486.9" stroke="#7a7a7a" stroke-width="1"/>
<line x1="178.4" y1="483.55" x2="221.1" y2="483.55" stroke="#7a7a7a" stroke-width="1"/>
<line x1="178.4" y1="480.2" x2="178.4" y2="486.9" stroke="#7a7a7a" stroke-width="1"/>
<line x1="221.1" y1="480.2" x2="221.1" y2="486.9" stroke="#7a7a7a" stroke-width="1"/>
<line x1="175.2" y1="480.2" x2="175.2" y2="486.9" stroke="#7a7a7a" stroke-width="1"/>
<rect x="102.1" y="493" width="6.7" height="54" fill="#fff"/>
<line x1="102.6" y1="493" x2="102.6" y2="547" stroke="#7a7a7a" stroke-width="1"/>
<line x1="108.3" y1="493" x2="108.3" y2="547" stroke="#7a7a7a" stroke-width="1.2"/>
<line x1="105.45" y1="496.2" x2="105.45" y2="543.8" stroke="#7a7a7a" stroke-width="1"/>
<line x1="102.1" y1="496.2" x2="108.8" y2="496.2" stroke="#7a7a7a" stroke-width="1"/>
<line x1="102.1" y1="543.8" x2="108.8" y2="543.8" stroke="#7a7a7a" stroke-width="1"/>
<rect x="102.1" y="641" width="6.7" height="54" fill="#fff"/>
<line x1="102.6" y1="641" x2="102.6" y2="695" stroke="#7a7a7a" stroke-width="1"/>
<line x1="108.3" y1="641" x2="108.3" y2="695" stroke="#7a7a7a" stroke-width="1.2"/>
<line x1="105.45" y1="644.2" x2="105.45" y2="691.8" stroke="#7a7a7a" stroke-width="1"/>
<line x1="102.1" y1="644.2" x2="108.8" y2="644.2" stroke="#7a7a7a" stroke-width="1"/>
<line x1="102.1" y1="691.8" x2="108.8" y2="691.8" stroke="#7a7a7a" stroke-width="1"/>
<rect x="119.9" y="705.3" width="57" height="6.7" fill="#fff"/>
<line x1="119.9" y1="705.8" x2="176.9" y2="705.8" stroke="#7a7a7a" stroke-width="1"/>
<line x1="119.9" y1="711.5" x2="176.9" y2="711.5" stroke="#7a7a7a" stroke-width="1.2"/>
<line x1="123.1" y1="708.65" x2="173.7" y2="708.65" stroke="#7a7a7a" stroke-width="1"/>
<line x1="123.1" y1="705.3" x2="123.1" y2="712" stroke="#7a7a7a" stroke-width="1"/>
<line x1="173.7" y1="705.3" x2="173.7" y2="712" stroke="#7a7a7a" stroke-width="1"/>
<rect x="331.2" y="705.3" width="53.8" height="6.7" fill="#fff"/>
<line x1="331.2" y1="705.8" x2="385" y2="705.8" stroke="#7a7a7a" stroke-width="1"/>
<line x1="331.2" y1="711.5" x2="385" y2="711.5" stroke="#7a7a7a" stroke-width="1.2"/>
<line x1="334.4" y1="708.65" x2="381.8" y2="708.65" stroke="#7a7a7a" stroke-width="1"/>
<line x1="334.4" y1="705.3" x2="334.4" y2="712" stroke="#7a7a7a" stroke-width="1"/>
<line x1="381.8" y1="705.3" x2="381.8" y2="712" stroke="#7a7a7a" stroke-width="1"/>
<rect x="281.1" y="498.6" width="4.7" height="36" fill="#fff"/>
<line x1="281.6" y1="498.6" x2="281.6" y2="534.6" stroke="#7a7a7a" stroke-width="1"/>
<line x1="285.3" y1="498.6" x2="285.3" y2="534.6" stroke="#1a1a1a" stroke-width="1"/>
<rect x="281.1" y="551.8" width="4.7" height="35.5" fill="#fff"/>
<line x1="281.6" y1="551.8" x2="281.6" y2="587.3" stroke="#1a1a1a" stroke-width="1"/>
<line x1="285.3" y1="551.8" x2="285.3" y2="587.3" stroke="#7a7a7a" stroke-width="1"/>
<rect x="318" y="543.5" width="39" height="4.5" fill="#fff"/>
<line x1="318" y1="543.8" x2="357" y2="543.8" stroke="#dcdcdc" stroke-width="1"/>
<line x1="318" y1="547.7" x2="357" y2="547.7" stroke="#e4e4e4" stroke-width="1"/>
<rect x="337" y="544.45" width="19.5" height="2.6" fill="#b8b8b8" stroke="#808080" stroke-width="0.7"/>
<rect x="361.8" y="552" width="4.4" height="32" fill="#fff"/>
<line x1="362.3" y1="552" x2="362.3" y2="584" stroke="#1a1a1a" stroke-width="1"/>
<line x1="365.7" y1="552" x2="365.7" y2="584" stroke="#7a7a7a" stroke-width="1"/>
<rect x="323" y="624" width="31.5" height="4.5" fill="#fff"/>
<line x1="323" y1="624.4" x2="354.5" y2="624.4" stroke="#1a1a1a" stroke-width="1"/>
<line x1="323" y1="628.2" x2="354.5" y2="628.2" stroke="#7a7a7a" stroke-width="1"/>
<rect x="506.3" y="635.6" width="4.7" height="61.8" fill="#fff"/>
<line x1="506.8" y1="635.6" x2="506.8" y2="697.4" stroke="#7a7a7a" stroke-width="1"/>
<line x1="510.5" y1="635.6" x2="510.5" y2="697.4" stroke="#1a1a1a" stroke-width="1"/>
<rect x="492" y="480.5" width="98.5" height="6.5" fill="#fff"/>
<line x1="492" y1="481" x2="590.5" y2="481" stroke="#7a7a7a" stroke-width="1"/>
<line x1="492" y1="486.5" x2="590.5" y2="486.5" stroke="#7a7a7a" stroke-width="1.2"/>
<line x1="495.2" y1="483.75" x2="537.2" y2="483.75" stroke="#7a7a7a" stroke-width="1"/>
<line x1="495.2" y1="480.5" x2="495.2" y2="487" stroke="#7a7a7a" stroke-width="1"/>
<line x1="537.2" y1="480.5" x2="537.2" y2="487" stroke="#7a7a7a" stroke-width="1"/>
<line x1="543.6" y1="483.75" x2="587.3" y2="483.75" stroke="#7a7a7a" stroke-width="1"/>
<line x1="543.6" y1="480.5" x2="543.6" y2="487" stroke="#7a7a7a" stroke-width="1"/>
<line x1="587.3" y1="480.5" x2="587.3" y2="487" stroke="#7a7a7a" stroke-width="1"/>
<line x1="540.4" y1="480.5" x2="540.4" y2="487" stroke="#7a7a7a" stroke-width="1"/>
<rect x="603.2" y="492" width="6.2" height="56.3" fill="#fff"/>
<line x1="603.7" y1="492" x2="603.7" y2="548.3" stroke="#7a7a7a" stroke-width="1"/>
<line x1="608.9" y1="492" x2="608.9" y2="548.3" stroke="#7a7a7a" stroke-width="1.2"/>
<line x1="606.3" y1="495.2" x2="606.3" y2="545.1" stroke="#7a7a7a" stroke-width="1"/>
<line x1="603.2" y1="495.2" x2="609.4" y2="495.2" stroke="#7a7a7a" stroke-width="1"/>
<line x1="603.2" y1="545.1" x2="609.4" y2="545.1" stroke="#7a7a7a" stroke-width="1"/>
<rect x="603.2" y="639.3" width="6.2" height="55.7" fill="#fff"/>
<line x1="603.7" y1="639.3" x2="603.7" y2="695" stroke="#7a7a7a" stroke-width="1"/>
<line x1="608.9" y1="639.3" x2="608.9" y2="695" stroke="#7a7a7a" stroke-width="1.2"/>
<line x1="606.3" y1="642.5" x2="606.3" y2="691.8" stroke="#7a7a7a" stroke-width="1"/>
<line x1="603.2" y1="642.5" x2="609.4" y2="642.5" stroke="#7a7a7a" stroke-width="1"/>
<line x1="603.2" y1="691.8" x2="609.4" y2="691.8" stroke="#7a7a7a" stroke-width="1"/>
<rect x="490.6" y="763.8" width="6.8" height="96.7" fill="#fff"/>
<line x1="491.1" y1="763.8" x2="491.1" y2="860.5" stroke="#7a7a7a" stroke-width="1"/>
<line x1="496.9" y1="763.8" x2="496.9" y2="860.5" stroke="#7a7a7a" stroke-width="1.2"/>
<line x1="494" y1="767" x2="494" y2="809.8" stroke="#7a7a7a" stroke-width="1"/>
<line x1="490.6" y1="767" x2="497.4" y2="767" stroke="#7a7a7a" stroke-width="1"/>
<line x1="490.6" y1="809.8" x2="497.4" y2="809.8" stroke="#7a7a7a" stroke-width="1"/>
<line x1="494" y1="816.2" x2="494" y2="857.3" stroke="#7a7a7a" stroke-width="1"/>
<line x1="490.6" y1="816.2" x2="497.4" y2="816.2" stroke="#7a7a7a" stroke-width="1"/>
<line x1="490.6" y1="857.3" x2="497.4" y2="857.3" stroke="#7a7a7a" stroke-width="1"/>
<line x1="490.6" y1="813" x2="497.4" y2="813" stroke="#7a7a7a" stroke-width="1"/>
<rect x="653.8" y="740.8" width="57.5" height="6.6" fill="#fff"/>
<line x1="653.8" y1="741.3" x2="711.3" y2="741.3" stroke="#7a7a7a" stroke-width="1"/>
<line x1="653.8" y1="746.9" x2="711.3" y2="746.9" stroke="#7a7a7a" stroke-width="1.2"/>
<line x1="657" y1="744.1" x2="708.1" y2="744.1" stroke="#7a7a7a" stroke-width="1"/>
<line x1="657" y1="740.8" x2="657" y2="747.4" stroke="#7a7a7a" stroke-width="1"/>
<line x1="708.1" y1="740.8" x2="708.1" y2="747.4" stroke="#7a7a7a" stroke-width="1"/>
<rect x="582" y="877.8" width="77.5" height="6.7" fill="#fff"/>
<line x1="582" y1="878.3" x2="659.5" y2="878.3" stroke="#7a7a7a" stroke-width="1"/>
<line x1="582" y1="884" x2="659.5" y2="884" stroke="#7a7a7a" stroke-width="1.2"/>
<line x1="585.2" y1="881.15" x2="656.3" y2="881.15" stroke="#7a7a7a" stroke-width="1"/>
<line x1="585.2" y1="877.8" x2="585.2" y2="884.5" stroke="#7a7a7a" stroke-width="1"/>
<line x1="656.3" y1="877.8" x2="656.3" y2="884.5" stroke="#7a7a7a" stroke-width="1"/>
<rect x="790" y="877.8" width="78" height="6.7" fill="#fff"/>
<line x1="790" y1="878.3" x2="868" y2="878.3" stroke="#d0d0d0" stroke-width="1"/>
<rect x="790" y="879.25" width="40.5" height="2.2" fill="#d8d8d8" stroke="#8a8a8a" stroke-width="0.7"/>
<rect x="827.5" y="880.55" width="40.5" height="2.4" fill="#cfcfcf" stroke="#808080" stroke-width="0.7"/>
<rect x="908" y="877.8" width="44.5" height="6.7" fill="#fff"/>
<line x1="908" y1="878.3" x2="952.5" y2="878.3" stroke="#7a7a7a" stroke-width="1"/>
<line x1="908" y1="884" x2="952.5" y2="884" stroke="#7a7a7a" stroke-width="1.2"/>
<line x1="911.2" y1="881.15" x2="949.3" y2="881.15" stroke="#7a7a7a" stroke-width="1"/>
<line x1="911.2" y1="877.8" x2="911.2" y2="884.5" stroke="#7a7a7a" stroke-width="1"/>
<line x1="949.3" y1="877.8" x2="949.3" y2="884.5" stroke="#7a7a7a" stroke-width="1"/>
<rect x="969.8" y="877.8" width="37.7" height="6.7" fill="#fff"/>
<line x1="969.8" y1="878.2" x2="1007.5" y2="878.2" stroke="#7a7a7a" stroke-width="1"/>
<line x1="969.8" y1="884.2" x2="1007.5" y2="884.2" stroke="#1a1a1a" stroke-width="1"/>
<rect x="1089.6" y="877.8" width="45" height="6.7" fill="#fff"/>
<line x1="1089.6" y1="878.3" x2="1134.6" y2="878.3" stroke="#7a7a7a" stroke-width="1"/>
<line x1="1089.6" y1="884" x2="1134.6" y2="884" stroke="#7a7a7a" stroke-width="1.2"/>
<line x1="1092.8" y1="881.15" x2="1131.4" y2="881.15" stroke="#7a7a7a" stroke-width="1"/>
<line x1="1092.8" y1="877.8" x2="1092.8" y2="884.5" stroke="#7a7a7a" stroke-width="1"/>
<line x1="1131.4" y1="877.8" x2="1131.4" y2="884.5" stroke="#7a7a7a" stroke-width="1"/>
<rect x="1210.9" y="877.8" width="87.2" height="6.7" fill="#fff"/>
<line x1="1210.9" y1="878.3" x2="1298.1" y2="878.3" stroke="#d0d0d0" stroke-width="1"/>
<rect x="1210.9" y="879.25" width="45.1" height="2.2" fill="#d8d8d8" stroke="#8a8a8a" stroke-width="0.7"/>
<rect x="1253" y="880.55" width="45.1" height="2.4" fill="#cfcfcf" stroke="#808080" stroke-width="0.7"/>
<rect x="747.5" y="761.3" width="6.8" height="105" fill="#fff"/>
<line x1="748" y1="761.3" x2="748" y2="866.3" stroke="#c8c8c8" stroke-width="1"/>
<line x1="753.8" y1="761.3" x2="753.8" y2="866.3" stroke="#c8c8c8" stroke-width="1"/>
<rect x="747.5" y="913.8" width="6.8" height="60.1" fill="#fff"/>
<line x1="748" y1="913.8" x2="748" y2="973.9" stroke="#7a7a7a" stroke-width="1"/>
<line x1="753.8" y1="913.8" x2="753.8" y2="973.9" stroke="#7a7a7a" stroke-width="1.2"/>
<line x1="750.9" y1="917" x2="750.9" y2="970.7" stroke="#7a7a7a" stroke-width="1"/>
<line x1="747.5" y1="917" x2="754.3" y2="917" stroke="#7a7a7a" stroke-width="1"/>
<line x1="747.5" y1="970.7" x2="754.3" y2="970.7" stroke="#7a7a7a" stroke-width="1"/>
<rect x="747.5" y="1053.5" width="6.8" height="63.6" fill="#fff"/>
<line x1="748" y1="1053.5" x2="748" y2="1117.1" stroke="#7a7a7a" stroke-width="1"/>
<line x1="753.8" y1="1053.5" x2="753.8" y2="1117.1" stroke="#7a7a7a" stroke-width="1.2"/>
<line x1="750.9" y1="1056.7" x2="750.9" y2="1113.9" stroke="#7a7a7a" stroke-width="1"/>
<line x1="747.5" y1="1056.7" x2="754.3" y2="1056.7" stroke="#7a7a7a" stroke-width="1"/>
<line x1="747.5" y1="1113.9" x2="754.3" y2="1113.9" stroke="#7a7a7a" stroke-width="1"/>
<rect x="755" y="740.8" width="67.5" height="6.6" fill="#fff"/>
<line x1="755" y1="741.3" x2="822.5" y2="741.3" stroke="#d0d0d0" stroke-width="1"/>
<rect x="755" y="742.2" width="35.25" height="2.2" fill="#d8d8d8" stroke="#8a8a8a" stroke-width="0.7"/>
<rect x="787.25" y="743.5" width="35.25" height="2.4" fill="#cfcfcf" stroke="#808080" stroke-width="0.7"/>
<rect x="893.8" y="740.8" width="67.7" height="6.6" fill="#fff"/>
<line x1="893.8" y1="741.3" x2="961.5" y2="741.3" stroke="#d0d0d0" stroke-width="1"/>
<rect x="893.8" y="742.2" width="35.35" height="2.2" fill="#d8d8d8" stroke="#8a8a8a" stroke-width="0.7"/>
<rect x="926.15" y="743.5" width="35.35" height="2.4" fill="#cfcfcf" stroke="#808080" stroke-width="0.7"/>
<rect x="827.5" y="740.8" width="61.3" height="6.6" fill="#fff"/>
<line x1="827.5" y1="741.2" x2="888.8" y2="741.2" stroke="#7a7a7a" stroke-width="1"/>
<line x1="827.5" y1="747.1" x2="888.8" y2="747.1" stroke="#1a1a1a" stroke-width="1"/>
<rect x="962.2" y="757" width="7.2" height="102.5" fill="#fff"/>
<line x1="962.7" y1="757" x2="962.7" y2="859.5" stroke="#d0d0d0" stroke-width="1"/>
<rect x="965.5" y="757" width="2.2" height="52.75" fill="#d8d8d8" stroke="#8a8a8a" stroke-width="0.7"/>
<rect x="964" y="806.75" width="2.4" height="52.75" fill="#cfcfcf" stroke="#808080" stroke-width="0.7"/>
<rect x="824.6" y="1146" width="58.8" height="6.6" fill="#fff"/>
<line x1="824.6" y1="1146.5" x2="883.4" y2="1146.5" stroke="#7a7a7a" stroke-width="1"/>
<line x1="824.6" y1="1152.1" x2="883.4" y2="1152.1" stroke="#7a7a7a" stroke-width="1.2"/>
<line x1="827.8" y1="1149.3" x2="880.2" y2="1149.3" stroke="#7a7a7a" stroke-width="1"/>
<line x1="827.8" y1="1146" x2="827.8" y2="1152.6" stroke="#7a7a7a" stroke-width="1"/>
<line x1="880.2" y1="1146" x2="880.2" y2="1152.6" stroke="#7a7a7a" stroke-width="1"/>
<rect x="967.1" y="1053.8" width="4.4" height="37.5" fill="#fff"/>
<line x1="967.6" y1="1053.8" x2="967.6" y2="1091.3" stroke="#e2e2e2" stroke-width="1"/>
<line x1="971" y1="1053.8" x2="971" y2="1091.3" stroke="#e2e2e2" stroke-width="1"/>
<rect x="1022.3" y="1169.7" width="73.7" height="6.8" fill="#fff"/>
<line x1="1022.3" y1="1170.2" x2="1096" y2="1170.2" stroke="#7a7a7a" stroke-width="1"/>
<line x1="1022.3" y1="1176" x2="1096" y2="1176" stroke="#7a7a7a" stroke-width="1.2"/>
<line x1="1025.5" y1="1173.1" x2="1092.8" y2="1173.1" stroke="#7a7a7a" stroke-width="1"/>
<line x1="1025.5" y1="1169.7" x2="1025.5" y2="1176.5" stroke="#7a7a7a" stroke-width="1"/>
<line x1="1092.8" y1="1169.7" x2="1092.8" y2="1176.5" stroke="#7a7a7a" stroke-width="1"/>
<rect x="932.8" y="974" width="31.6" height="4.4" fill="#fff"/>
<line x1="932.8" y1="974.4" x2="964.4" y2="974.4" stroke="#1a1a1a" stroke-width="1"/>
<line x1="932.8" y1="978.1" x2="964.4" y2="978.1" stroke="#7a7a7a" stroke-width="1"/>
<rect x="1008.8" y="886" width="4" height="34.3" fill="#fff"/>
<line x1="1009.3" y1="886" x2="1009.3" y2="920.3" stroke="#1a1a1a" stroke-width="1"/>
<line x1="1012.3" y1="886" x2="1012.3" y2="920.3" stroke="#7a7a7a" stroke-width="1"/>
<rect x="986.9" y="974" width="32.5" height="4.4" fill="#fff"/>
<line x1="986.9" y1="974.4" x2="1019.4" y2="974.4" stroke="#7a7a7a" stroke-width="1"/>
<line x1="986.9" y1="978.1" x2="1019.4" y2="978.1" stroke="#1a1a1a" stroke-width="1"/>
<rect x="971.5" y="979" width="4.2" height="36.9" fill="#fff"/>
<line x1="972" y1="979" x2="972" y2="1015.9" stroke="#7a7a7a" stroke-width="1"/>
<line x1="975.2" y1="979" x2="975.2" y2="1015.9" stroke="#1a1a1a" stroke-width="1"/>
<rect x="1134" y="1169.7" width="168.8" height="6.8" fill="#fff"/>
<line x1="1134" y1="1170.2" x2="1302.8" y2="1170.2" stroke="#7a7a7a" stroke-width="1"/>
<line x1="1134" y1="1176" x2="1302.8" y2="1176" stroke="#7a7a7a" stroke-width="1.2"/>
<line x1="1137.2" y1="1173.1" x2="1186.5" y2="1173.1" stroke="#7a7a7a" stroke-width="1"/>
<line x1="1137.2" y1="1169.7" x2="1137.2" y2="1176.5" stroke="#7a7a7a" stroke-width="1"/>
<line x1="1186.5" y1="1169.7" x2="1186.5" y2="1176.5" stroke="#7a7a7a" stroke-width="1"/>
<line x1="1192.9" y1="1173.1" x2="1243.7" y2="1173.1" stroke="#7a7a7a" stroke-width="1"/>
<line x1="1192.9" y1="1169.7" x2="1192.9" y2="1176.5" stroke="#7a7a7a" stroke-width="1"/>
<line x1="1243.7" y1="1169.7" x2="1243.7" y2="1176.5" stroke="#7a7a7a" stroke-width="1"/>
<line x1="1250.1" y1="1173.1" x2="1299.6" y2="1173.1" stroke="#7a7a7a" stroke-width="1"/>
<line x1="1250.1" y1="1169.7" x2="1250.1" y2="1176.5" stroke="#7a7a7a" stroke-width="1"/>
<line x1="1299.6" y1="1169.7" x2="1299.6" y2="1176.5" stroke="#7a7a7a" stroke-width="1"/>
<line x1="1189.7" y1="1169.7" x2="1189.7" y2="1176.5" stroke="#7a7a7a" stroke-width="1"/>
<line x1="1246.9" y1="1169.7" x2="1246.9" y2="1176.5" stroke="#7a7a7a" stroke-width="1"/>
<rect x="1380.3" y="1169.7" width="17" height="6.8" fill="#fff"/>
<line x1="1380.3" y1="1170.2" x2="1397.3" y2="1170.2" stroke="#7a7a7a" stroke-width="1"/>
<line x1="1380.3" y1="1176" x2="1397.3" y2="1176" stroke="#7a7a7a" stroke-width="1.2"/>
<line x1="1383.5" y1="1173.1" x2="1394.1" y2="1173.1" stroke="#7a7a7a" stroke-width="1"/>
<line x1="1383.5" y1="1169.7" x2="1383.5" y2="1176.5" stroke="#7a7a7a" stroke-width="1"/>
<line x1="1394.1" y1="1169.7" x2="1394.1" y2="1176.5" stroke="#7a7a7a" stroke-width="1"/>
<rect x="1397.3" y="1169.7" width="42.9" height="6.8" fill="#fff"/>
<line x1="1397.3" y1="1170.1" x2="1440.2" y2="1170.1" stroke="#1a1a1a" stroke-width="1"/>
<line x1="1397.3" y1="1176.2" x2="1440.2" y2="1176.2" stroke="#7a7a7a" stroke-width="1"/>
<rect x="1440.2" y="1169.7" width="17.6" height="6.8" fill="#fff"/>
<line x1="1440.2" y1="1170.2" x2="1457.8" y2="1170.2" stroke="#7a7a7a" stroke-width="1"/>
<line x1="1440.2" y1="1176" x2="1457.8" y2="1176" stroke="#7a7a7a" stroke-width="1.2"/>
<line x1="1443.4" y1="1173.1" x2="1454.6" y2="1173.1" stroke="#7a7a7a" stroke-width="1"/>
<line x1="1443.4" y1="1169.7" x2="1443.4" y2="1176.5" stroke="#7a7a7a" stroke-width="1"/>
<line x1="1454.6" y1="1169.7" x2="1454.6" y2="1176.5" stroke="#7a7a7a" stroke-width="1"/>
<rect x="1539.4" y="1169.7" width="45.6" height="6.8" fill="#fff"/>
<line x1="1539.4" y1="1170.2" x2="1585" y2="1170.2" stroke="#7a7a7a" stroke-width="1"/>
<line x1="1539.4" y1="1176" x2="1585" y2="1176" stroke="#7a7a7a" stroke-width="1.2"/>
<line x1="1542.6" y1="1173.1" x2="1581.8" y2="1173.1" stroke="#7a7a7a" stroke-width="1"/>
<line x1="1542.6" y1="1169.7" x2="1542.6" y2="1176.5" stroke="#7a7a7a" stroke-width="1"/>
<line x1="1581.8" y1="1169.7" x2="1581.8" y2="1176.5" stroke="#7a7a7a" stroke-width="1"/>
<rect x="1632" y="1169.7" width="35" height="6.8" fill="#fff"/>
<line x1="1632" y1="1170.2" x2="1667" y2="1170.2" stroke="#7a7a7a" stroke-width="1"/>
<line x1="1632" y1="1176" x2="1667" y2="1176" stroke="#7a7a7a" stroke-width="1.2"/>
<line x1="1635.2" y1="1173.1" x2="1663.8" y2="1173.1" stroke="#7a7a7a" stroke-width="1"/>
<line x1="1635.2" y1="1169.7" x2="1635.2" y2="1176.5" stroke="#7a7a7a" stroke-width="1"/>
<line x1="1663.8" y1="1169.7" x2="1663.8" y2="1176.5" stroke="#7a7a7a" stroke-width="1"/>
<rect x="1355" y="919.8" width="82.6" height="6.2" fill="#fff"/>
<line x1="1355" y1="920.3" x2="1437.6" y2="920.3" stroke="#7a7a7a" stroke-width="1"/>
<line x1="1355" y1="925.5" x2="1437.6" y2="925.5" stroke="#7a7a7a" stroke-width="1.2"/>
<line x1="1358.2" y1="922.9" x2="1393.1" y2="922.9" stroke="#7a7a7a" stroke-width="1"/>
<line x1="1358.2" y1="919.8" x2="1358.2" y2="926" stroke="#7a7a7a" stroke-width="1"/>
<line x1="1393.1" y1="919.8" x2="1393.1" y2="926" stroke="#7a7a7a" stroke-width="1"/>
<line x1="1399.5" y1="922.9" x2="1434.4" y2="922.9" stroke="#7a7a7a" stroke-width="1"/>
<line x1="1399.5" y1="919.8" x2="1399.5" y2="926" stroke="#7a7a7a" stroke-width="1"/>
<line x1="1434.4" y1="919.8" x2="1434.4" y2="926" stroke="#7a7a7a" stroke-width="1"/>
<line x1="1396.3" y1="919.8" x2="1396.3" y2="926" stroke="#7a7a7a" stroke-width="1"/>
<rect x="1522" y="919.8" width="90" height="6.2" fill="#fff"/>
<line x1="1522" y1="920.3" x2="1612" y2="920.3" stroke="#7a7a7a" stroke-width="1"/>
<line x1="1522" y1="925.5" x2="1612" y2="925.5" stroke="#7a7a7a" stroke-width="1.2"/>
<line x1="1525.2" y1="922.9" x2="1563.8" y2="922.9" stroke="#7a7a7a" stroke-width="1"/>
<line x1="1525.2" y1="919.8" x2="1525.2" y2="926" stroke="#7a7a7a" stroke-width="1"/>
<line x1="1563.8" y1="919.8" x2="1563.8" y2="926" stroke="#7a7a7a" stroke-width="1"/>
<line x1="1570.2" y1="922.9" x2="1608.8" y2="922.9" stroke="#7a7a7a" stroke-width="1"/>
<line x1="1570.2" y1="919.8" x2="1570.2" y2="926" stroke="#7a7a7a" stroke-width="1"/>
<line x1="1608.8" y1="919.8" x2="1608.8" y2="926" stroke="#7a7a7a" stroke-width="1"/>
<line x1="1567" y1="919.8" x2="1567" y2="926" stroke="#7a7a7a" stroke-width="1"/>
<rect x="1638" y="919.8" width="40.8" height="6.2" fill="#fff"/>
<line x1="1638" y1="920.3" x2="1678.8" y2="920.3" stroke="#7a7a7a" stroke-width="1"/>
<line x1="1638" y1="925.5" x2="1678.8" y2="925.5" stroke="#7a7a7a" stroke-width="1.2"/>
<line x1="1641.2" y1="922.9" x2="1675.6" y2="922.9" stroke="#7a7a7a" stroke-width="1"/>
<line x1="1641.2" y1="919.8" x2="1641.2" y2="926" stroke="#7a7a7a" stroke-width="1"/>
<line x1="1675.6" y1="919.8" x2="1675.6" y2="926" stroke="#7a7a7a" stroke-width="1"/>
<rect x="1732.8" y="919.8" width="42.2" height="6.2" fill="#fff"/>
<line x1="1732.8" y1="920.3" x2="1775" y2="920.3" stroke="#7a7a7a" stroke-width="1"/>
<line x1="1732.8" y1="925.5" x2="1775" y2="925.5" stroke="#7a7a7a" stroke-width="1.2"/>
<line x1="1736" y1="922.9" x2="1771.8" y2="922.9" stroke="#7a7a7a" stroke-width="1"/>
<line x1="1736" y1="919.8" x2="1736" y2="926" stroke="#7a7a7a" stroke-width="1"/>
<line x1="1771.8" y1="919.8" x2="1771.8" y2="926" stroke="#7a7a7a" stroke-width="1"/>
<rect x="1846" y="919.8" width="49" height="6.2" fill="#fff"/>
<line x1="1846" y1="920.3" x2="1895" y2="920.3" stroke="#7a7a7a" stroke-width="1"/>
<line x1="1846" y1="925.5" x2="1895" y2="925.5" stroke="#7a7a7a" stroke-width="1.2"/>
<line x1="1849.2" y1="922.9" x2="1891.8" y2="922.9" stroke="#7a7a7a" stroke-width="1"/>
<line x1="1849.2" y1="919.8" x2="1849.2" y2="926" stroke="#7a7a7a" stroke-width="1"/>
<line x1="1891.8" y1="919.8" x2="1891.8" y2="926" stroke="#7a7a7a" stroke-width="1"/>
<rect x="1939.5" y="971" width="6.5" height="46.5" fill="#fff"/>
<line x1="1940" y1="971" x2="1940" y2="1017.5" stroke="#7a7a7a" stroke-width="1"/>
<line x1="1945.5" y1="971" x2="1945.5" y2="1017.5" stroke="#7a7a7a" stroke-width="1.2"/>
<line x1="1942.75" y1="974.2" x2="1942.75" y2="1014.3" stroke="#7a7a7a" stroke-width="1"/>
<line x1="1939.5" y1="974.2" x2="1946" y2="974.2" stroke="#7a7a7a" stroke-width="1"/>
<line x1="1939.5" y1="1014.3" x2="1946" y2="1014.3" stroke="#7a7a7a" stroke-width="1"/>
<rect x="1939.5" y="1067" width="6.5" height="47.5" fill="#fff"/>
<line x1="1940" y1="1067" x2="1940" y2="1114.5" stroke="#7a7a7a" stroke-width="1"/>
<line x1="1945.5" y1="1067" x2="1945.5" y2="1114.5" stroke="#7a7a7a" stroke-width="1.2"/>
<line x1="1942.75" y1="1070.2" x2="1942.75" y2="1111.3" stroke="#7a7a7a" stroke-width="1"/>
<line x1="1939.5" y1="1070.2" x2="1946" y2="1070.2" stroke="#7a7a7a" stroke-width="1"/>
<line x1="1939.5" y1="1111.3" x2="1946" y2="1111.3" stroke="#7a7a7a" stroke-width="1"/>
<rect x="1939.5" y="1170.5" width="6.5" height="46.2" fill="#fff"/>
<line x1="1940" y1="1170.5" x2="1940" y2="1216.7" stroke="#7a7a7a" stroke-width="1"/>
<line x1="1945.5" y1="1170.5" x2="1945.5" y2="1216.7" stroke="#7a7a7a" stroke-width="1.2"/>
<line x1="1942.75" y1="1173.7" x2="1942.75" y2="1213.5" stroke="#7a7a7a" stroke-width="1"/>
<line x1="1939.5" y1="1173.7" x2="1946" y2="1173.7" stroke="#7a7a7a" stroke-width="1"/>
<line x1="1939.5" y1="1213.5" x2="1946" y2="1213.5" stroke="#7a7a7a" stroke-width="1"/>
<rect x="1686.3" y="1271.2" width="73.7" height="6.6" fill="#fff"/>
<line x1="1686.3" y1="1271.7" x2="1760" y2="1271.7" stroke="#7a7a7a" stroke-width="1"/>
<line x1="1686.3" y1="1277.3" x2="1760" y2="1277.3" stroke="#7a7a7a" stroke-width="1.2"/>
<line x1="1689.5" y1="1274.5" x2="1756.8" y2="1274.5" stroke="#7a7a7a" stroke-width="1"/>
<line x1="1689.5" y1="1271.2" x2="1689.5" y2="1277.8" stroke="#7a7a7a" stroke-width="1"/>
<line x1="1756.8" y1="1271.2" x2="1756.8" y2="1277.8" stroke="#7a7a7a" stroke-width="1"/>
<rect x="1770" y="1271.2" width="73.2" height="6.6" fill="#fff"/>
<line x1="1770" y1="1271.7" x2="1843.2" y2="1271.7" stroke="#7a7a7a" stroke-width="1"/>
<line x1="1770" y1="1277.3" x2="1843.2" y2="1277.3" stroke="#7a7a7a" stroke-width="1.2"/>
<line x1="1773.2" y1="1274.5" x2="1840" y2="1274.5" stroke="#7a7a7a" stroke-width="1"/>
<line x1="1773.2" y1="1271.2" x2="1773.2" y2="1277.8" stroke="#7a7a7a" stroke-width="1"/>
<line x1="1840" y1="1271.2" x2="1840" y2="1277.8" stroke="#7a7a7a" stroke-width="1"/>
<rect x="1857.8" y="1271.2" width="75" height="6.6" fill="#fff"/>
<line x1="1857.8" y1="1271.7" x2="1932.8" y2="1271.7" stroke="#7a7a7a" stroke-width="1"/>
<line x1="1857.8" y1="1277.3" x2="1932.8" y2="1277.3" stroke="#7a7a7a" stroke-width="1.2"/>
<line x1="1861" y1="1274.5" x2="1929.6" y2="1274.5" stroke="#7a7a7a" stroke-width="1"/>
<line x1="1861" y1="1271.2" x2="1861" y2="1277.8" stroke="#7a7a7a" stroke-width="1"/>
<line x1="1929.6" y1="1271.2" x2="1929.6" y2="1277.8" stroke="#7a7a7a" stroke-width="1"/>
<rect x="1426.3" y="1084" width="35.7" height="4.7" fill="#fff"/>
<line x1="1426.3" y1="1084.4" x2="1462" y2="1084.4" stroke="#1a1a1a" stroke-width="1"/>
<line x1="1426.3" y1="1088.4" x2="1462" y2="1088.4" stroke="#7a7a7a" stroke-width="1"/>
<rect x="1587.6" y="1084" width="36.2" height="4.7" fill="#fff"/>
<line x1="1587.6" y1="1084.4" x2="1623.8" y2="1084.4" stroke="#1a1a1a" stroke-width="1"/>
<line x1="1587.6" y1="1088.4" x2="1623.8" y2="1088.4" stroke="#7a7a7a" stroke-width="1"/>
<rect x="1465.3" y="936" width="4.5" height="71" fill="#fff"/>
<line x1="1465.8" y1="936" x2="1465.8" y2="1007" stroke="#d0d0d0" stroke-width="1"/>
<rect x="1467.25" y="936" width="2.2" height="37" fill="#d8d8d8" stroke="#8a8a8a" stroke-width="0.7"/>
<rect x="1465.75" y="970" width="2.4" height="37" fill="#cfcfcf" stroke="#808080" stroke-width="0.7"/>
<rect x="1495.7" y="1020.7" width="4.7" height="60" fill="#fff"/>
<line x1="1496.2" y1="1020.7" x2="1496.2" y2="1080.7" stroke="#d0d0d0" stroke-width="1"/>
<rect x="1497.75" y="1020.7" width="2.2" height="31.5" fill="#d8d8d8" stroke="#8a8a8a" stroke-width="0.7"/>
<rect x="1496.25" y="1049.2" width="2.4" height="31.5" fill="#cfcfcf" stroke="#808080" stroke-width="0.7"/>
<rect x="1668.2" y="981.3" width="32.3" height="4.3" fill="#fff"/>
<line x1="1668.2" y1="981.6" x2="1700.5" y2="981.6" stroke="#dcdcdc" stroke-width="1"/>
<line x1="1668.2" y1="985.3" x2="1700.5" y2="985.3" stroke="#e4e4e4" stroke-width="1"/>
<rect x="1666" y="1084" width="32.3" height="4.7" fill="#fff"/>
<line x1="1666" y1="1084.3" x2="1698.3" y2="1084.3" stroke="#dcdcdc" stroke-width="1"/>
<line x1="1666" y1="1088.4" x2="1698.3" y2="1088.4" stroke="#e4e4e4" stroke-width="1"/>
<rect x="1666.5" y="1085.05" width="16.15" height="2.6" fill="#b8b8b8" stroke="#808080" stroke-width="0.7"/>
<rect x="1829.2" y="1056.9" width="32.2" height="4.5" fill="#fff"/>
<line x1="1829.2" y1="1057.2" x2="1861.4" y2="1057.2" stroke="#dcdcdc" stroke-width="1"/>
<line x1="1829.2" y1="1061.1" x2="1861.4" y2="1061.1" stroke="#e4e4e4" stroke-width="1"/>
<rect x="1844.8" y="1057.85" width="16.1" height="2.6" fill="#b8b8b8" stroke="#808080" stroke-width="0.7"/>
<rect x="1796.9" y="961.6" width="4.6" height="31.9" fill="#fff"/>
<line x1="1797.4" y1="961.6" x2="1797.4" y2="993.5" stroke="#1a1a1a" stroke-width="1"/>
<line x1="1801" y1="961.6" x2="1801" y2="993.5" stroke="#7a7a7a" stroke-width="1"/>
<rect x="1754.5" y="1090.2" width="5" height="36.7" fill="#fff"/>
<line x1="1755" y1="1090.2" x2="1755" y2="1126.9" stroke="#555" stroke-width="1"/>
<line x1="1759" y1="1090.2" x2="1759" y2="1126.9" stroke="#555" stroke-width="1"/>
<rect x="1488.1" y="1135.9" width="4.2" height="31.2" fill="#fff"/>
<line x1="1492" y1="1135.9" x2="1492" y2="1167.1" stroke="#ccc" stroke-width="1"/>
<rect x="1523.5" y="1128.4" width="32.5" height="4.6" fill="#fff"/>
<line x1="1523.5" y1="1128.9" x2="1556" y2="1128.9" stroke="#7a7a7a" stroke-width="1"/>
<line x1="1523.5" y1="1132.5" x2="1556" y2="1132.5" stroke="#1a1a1a" stroke-width="1"/>
<rect x="1566.9" y="1128.4" width="27.9" height="4.6" fill="#fff"/>
<line x1="1566.9" y1="1128.9" x2="1594.8" y2="1128.9" stroke="#7a7a7a" stroke-width="1"/>
<line x1="1566.9" y1="1132.5" x2="1594.8" y2="1132.5" stroke="#7a7a7a" stroke-width="1.2"/>
<line x1="1570.1" y1="1130.7" x2="1591.6" y2="1130.7" stroke="#7a7a7a" stroke-width="1"/>
<line x1="1570.1" y1="1128.4" x2="1570.1" y2="1133" stroke="#7a7a7a" stroke-width="1"/>
<line x1="1591.6" y1="1128.4" x2="1591.6" y2="1133" stroke="#7a7a7a" stroke-width="1"/>
</g>
<defs><pattern id="h1" width="4.6" height="4.6" patternUnits="userSpaceOnUse" patternTransform="rotate(-45)"><line x1="0" y1="2.3" x2="4.6" y2="2.3" stroke="#777" stroke-width="0.9"/></pattern><pattern id="h2" width="4.6" height="4.6" patternUnits="userSpaceOnUse" patternTransform="rotate(70)"><line x1="0" y1="2.3" x2="4.6" y2="2.3" stroke="#777" stroke-width="0.9"/></pattern></defs>
<rect x="0" y="1454" width="250" height="82" fill="#606060"/>
<text x="17" y="1508.8" font-family="'Liberation Serif', 'DejaVu Serif', serif" font-weight="bold" font-size="57" fill="#dedede" textLength="149" lengthAdjust="spacingAndGlyphs">bright</text>
<rect x="147" y="1466" width="21" height="23.6" fill="#606060"/>
<text x="177.6" y="1508.8" font-family="'Liberation Sans', sans-serif" font-size="28" fill="#e6e6e6" stroke="#606060" stroke-width="0.45" textLength="56.5" lengthAdjust="spacingAndGlyphs">MLS</text>
<text x="165.5" y="1473.6" font-family="'Liberation Sans', sans-serif" font-weight="bold" font-size="6" fill="#e4e4e4" textLength="9" lengthAdjust="spacingAndGlyphs">TM</text>
<path d="M154.6 1474C155.8 1479.2 158.5 1481 167.2 1482.5C158.5 1484 155.8 1485 154.6 1488.4C153.4 1485 150.8 1484 145.2 1482.5C150.8 1481 153.4 1479.2 154.6 1474Z" fill="#e2562f"/>
</svg>
</body>
</html>
